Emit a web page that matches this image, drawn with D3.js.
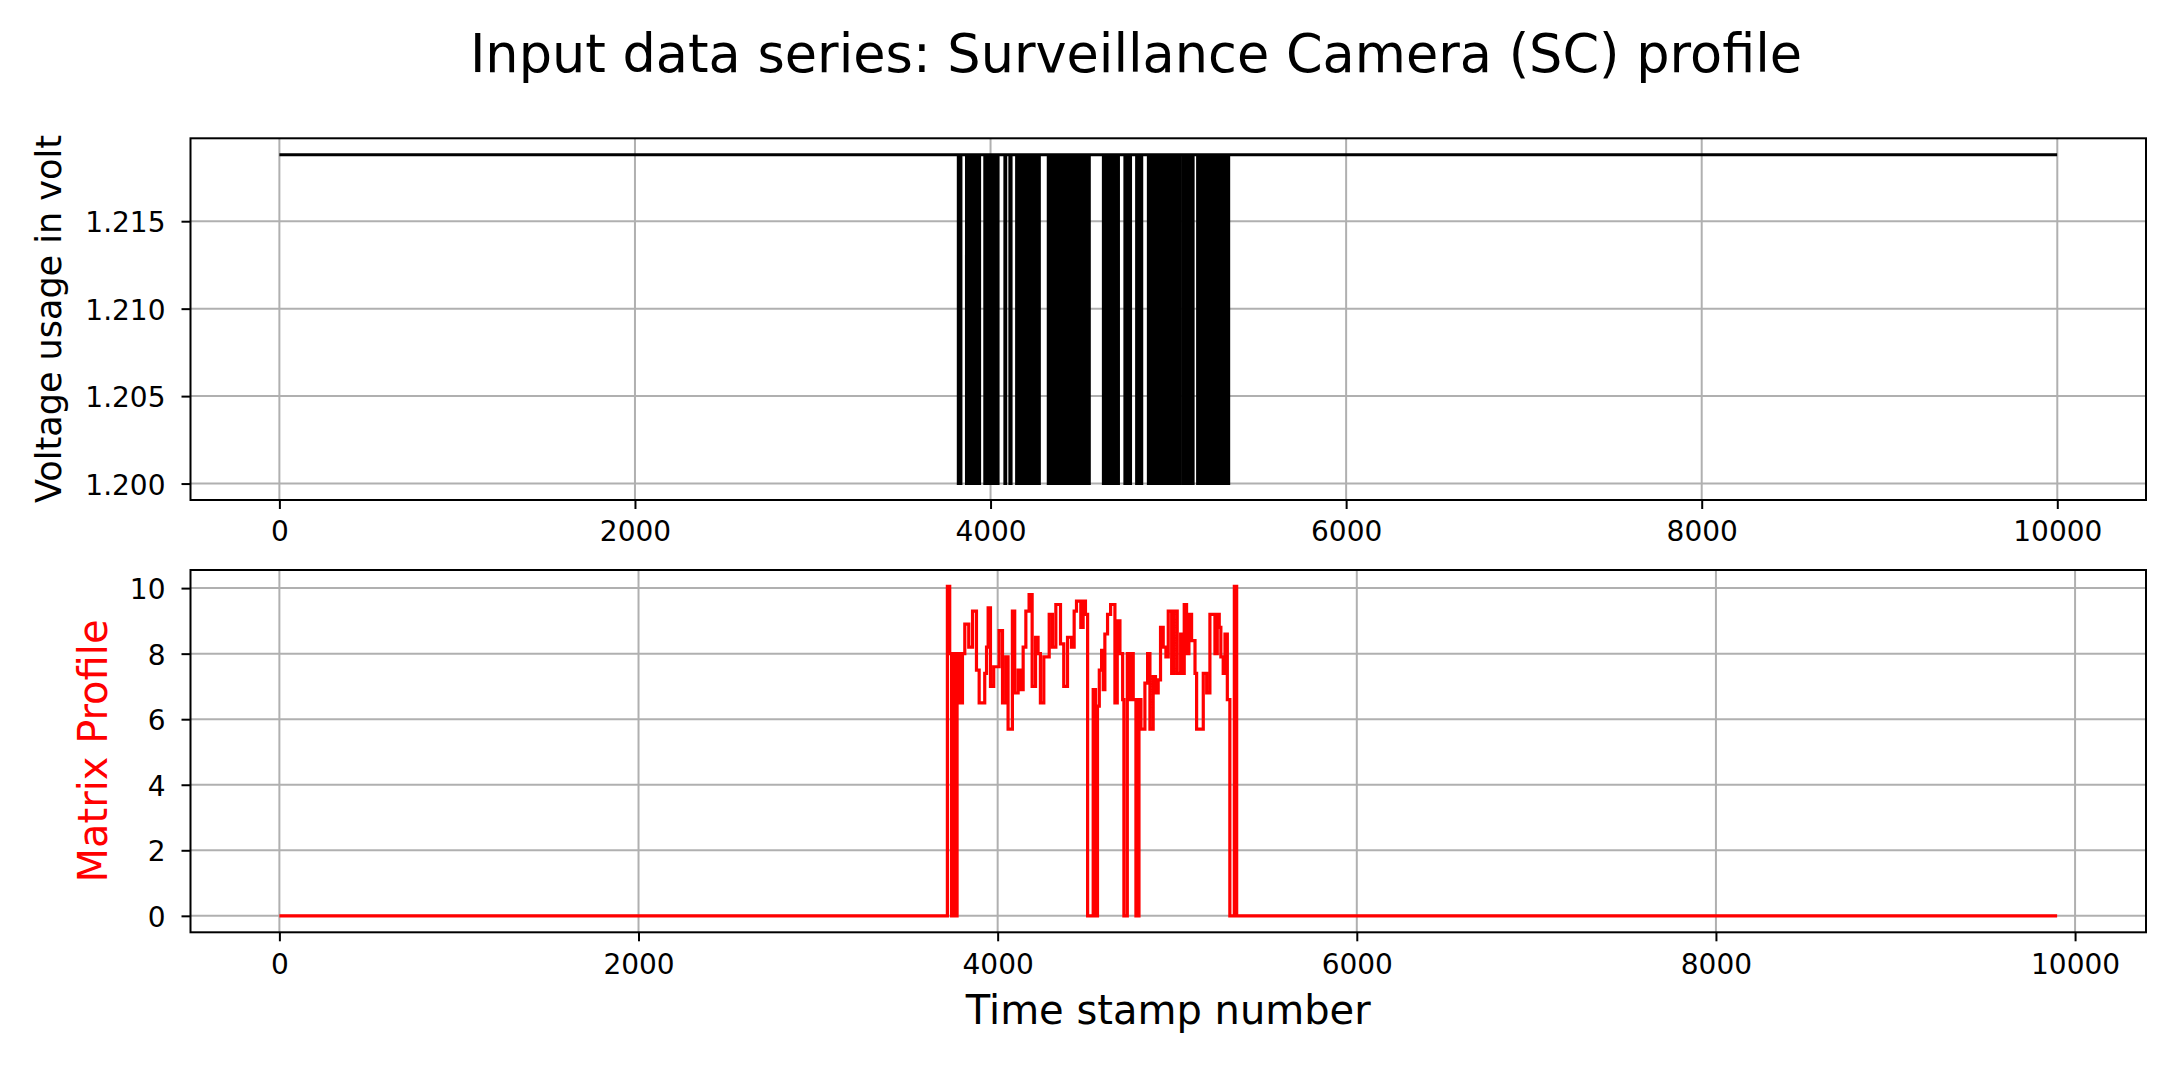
<!DOCTYPE html>
<html>
<head>
<meta charset="utf-8">
<script src="https://cdn.jsdelivr.net/npm/d3@7"></script>
<style>
  body { margin: 0; background: #fff; }
  svg text { font-family: "DejaVu Sans", sans-serif; }
</style>
</head>
<body>
<svg id="chart" width="2182" height="1069"></svg>
<script>
// ---------------- DATA ----------------
const titleText = "Input data series: Surveillance Camera (SC) profile";
const voltLabel = "Voltage usage in volt";
const mpLabel = "Matrix Profile";
const xLabel = "Time stamp number";

const voltLength = 10000;              // indices 0..9999
const voltLevels = [1.2188, 1.2];      // [high, low]; series starts high
// indices where the voltage series switches level
const voltTransitions = [3818, 3823, 3829, 3834,
  3864, 3872, 3880, 3888, 3896, 3904, 3912, 3920, 3930, 3939,
  3967, 3975, 3983, 3991, 3999, 4007, 4015, 4023, 4033, 4043,
  4080, 4086, 4108, 4116,
  4146, 4154, 4162, 4170, 4178, 4186, 4192, 4205, 4219, 4227, 4235, 4243, 4251, 4259, 4267, 4275,
  4324, 4332, 4340, 4348, 4356, 4364, 4371, 4385, 4399, 4407, 4415, 4423, 4431, 4439, 4447, 4455,
  4462, 4470, 4480, 4490, 4500, 4515, 4528, 4540, 4549, 4556,
  4634, 4642, 4650, 4658, 4666, 4674, 4682, 4690, 4698, 4706, 4714, 4720,
  4755, 4763, 4778, 4788,
  4821, 4827, 4833, 4839, 4845, 4851,
  4887, 4895, 4903, 4911, 4919, 4927, 4935, 4943, 4955, 4968,
  4980, 4988, 4996, 5004, 5012, 5018,
  5033, 5040, 5047, 5054, 5061, 5068,
  5084, 5092, 5100, 5108, 5116, 5124, 5132, 5140,
  5164, 5172, 5180, 5188, 5196, 5204, 5212, 5220, 5228, 5236, 5244, 5252, 5260, 5268, 5276, 5284,
  5292, 5300, 5308, 5314, 5322, 5330, 5336, 5340];

const mpLength = 9901;                 // indices 0..9900
// matrix profile: index where value changes, and new value
const mpIdx = [0, 3720, 3733, 3743, 3752, 3761, 3774, 3789, 3804, 3817,
  3839, 3860, 3882, 3897, 3928, 3938, 3947, 3960, 3978, 4008,
  4027, 4045, 4058, 4082, 4095, 4114, 4127, 4142, 4157, 4175,
  4192, 4211, 4225, 4238, 4257, 4287, 4305, 4324, 4350, 4368,
  4389, 4411, 4426, 4439, 4463, 4476, 4489, 4501, 4532, 4545,
  4556, 4566, 4579, 4588, 4597, 4612, 4629, 4653, 4666, 4681,
  4696, 4703, 4722, 4733, 4740, 4755, 4770, 4787, 4798, 4820,
  4835, 4848, 4866, 4879, 4894, 4907, 4922, 4937, 4950, 4969,
  4982, 5000, 5019, 5028, 5039, 5052, 5065, 5080, 5099, 5108,
  5145, 5164, 5182, 5210, 5223, 5234, 5243, 5256, 5266, 5279,
  5293, 5318, 5331, 9900];
const mpVal = [0, 10.05, 8.0, 0, 8.0, 0, 8.0, 6.5, 8.0, 8.9,
  8.2, 9.3, 7.5, 6.5, 7.4, 8.2, 9.4, 7.0, 7.6, 8.7,
  6.5, 7.9, 5.7, 9.3, 6.8, 7.5, 6.9, 8.2, 9.3, 9.8,
  7.0, 8.5, 8.0, 6.5, 7.9, 9.2, 8.2, 9.5, 8.3, 7.0,
  8.5, 8.2, 9.3, 9.6, 8.8, 9.6, 9.2, 0, 6.9, 0,
  6.4, 7.5, 8.1, 6.9, 8.6, 9.2, 9.5, 6.5, 9.0, 8.0,
  6.6, 0, 8.0, 6.6, 8.0, 6.6, 0, 6.6, 5.7, 7.1,
  8.0, 5.7, 7.3, 6.8, 7.2, 8.8, 8.2, 7.9, 9.3, 7.4,
  9.3, 7.4, 8.6, 7.4, 9.5, 8.0, 9.2, 8.4, 7.4, 5.7,
  7.4, 6.8, 9.2, 8.0, 9.2, 8.8, 7.9, 7.4, 8.6, 6.6,
  0, 10.05, 0, 0];

const xTickValues = [0, 2000, 4000, 6000, 8000, 10000];
const voltTickValues = [1.200, 1.205, 1.210, 1.215];
const mpTickValues = [0, 2, 4, 6, 8, 10];

// ---------------- BUILD SERIES ----------------
const voltPoints = [[0, voltLevels[0]]];
let state = 0;
voltTransitions.forEach(t => { state = 1 - state; voltPoints.push([t, voltLevels[state]]); });
voltPoints.push([voltLength - 1, voltLevels[state]]);

const mpPoints = mpIdx.map((d, i) => [d, mpVal[i]]);

// margins like matplotlib (5%)
function padDomain(lo, hi) { const m = (hi - lo) * 0.05; return [lo - m, hi + m]; }

// ---------------- LAYOUT ----------------
const svg = d3.select("#chart");
const L = 190.5, R = 2146;
const tickFont = 28;

function panel(opts) {
  const { y0, y1, xDom, yDom, yTicks, yFmt, points, color, width, id } = opts;
  const x = d3.scaleLinear().domain(xDom).range([L, R]);
  const y = d3.scaleLinear().domain(yDom).range([y1, y0]);
  const g = svg.append("g");

  svg.append("clipPath").attr("id", id).append("rect")
    .attr("x", L).attr("y", y0).attr("width", R - L).attr("height", y1 - y0);

  // grid
  g.append("g").selectAll("line").data(xTickValues).join("line")
    .attr("x1", d => x(d)).attr("x2", d => x(d)).attr("y1", y0).attr("y2", y1)
    .attr("stroke", "#b0b0b0").attr("stroke-width", 2);
  g.append("g").selectAll("line").data(yTicks).join("line")
    .attr("x1", L).attr("x2", R).attr("y1", d => y(d)).attr("y2", d => y(d))
    .attr("stroke", "#b0b0b0").attr("stroke-width", 2);

  // series
  g.append("path").datum(points)
    .attr("clip-path", `url(#${id})`)
    .attr("d", d3.line().x(d => x(d[0])).y(d => y(d[1])).curve(d3.curveStepAfter))
    .attr("fill", "none").attr("stroke", color).attr("stroke-width", width)
    .attr("stroke-linejoin", "miter");

  // spines
  g.append("rect").attr("x", L).attr("y", y0).attr("width", R - L).attr("height", y1 - y0)
    .attr("fill", "none").attr("stroke", "#000").attr("stroke-width", 2);

  // x axis
  g.append("g").attr("transform", `translate(0,${y1})`)
    .call(d3.axisBottom(x).tickValues(xTickValues).tickSize(9).tickSizeOuter(0)
      .tickPadding(12.5).tickFormat(d3.format("d")))
    .call(a => a.select(".domain").remove())
    .call(a => a.selectAll("line").attr("stroke", "#000").attr("stroke-width", 2))
    .call(a => a.selectAll("text").attr("fill", "#000"))
    .attr("font-size", tickFont).attr("font-family", "DejaVu Sans");

  // y axis
  g.append("g").attr("transform", `translate(${L},0)`)
    .call(d3.axisLeft(y).tickValues(yTicks).tickSize(9).tickSizeOuter(0)
      .tickPadding(16).tickFormat(yFmt))
    .call(a => a.select(".domain").remove())
    .call(a => a.selectAll("line").attr("stroke", "#000").attr("stroke-width", 2))
    .call(a => a.selectAll("text").attr("fill", "#000").attr("dy", "0.38em"))
    .attr("font-size", tickFont).attr("font-family", "DejaVu Sans");
}

panel({
  y0: 138.3, y1: 500,
  xDom: padDomain(0, voltLength - 1),
  yDom: padDomain(d3.min(voltLevels), d3.max(voltLevels)),
  yTicks: voltTickValues, yFmt: d3.format(".3f"),
  points: voltPoints, color: "#000", width: 2.8, id: "clipTop"
});

panel({
  y0: 570, y1: 932.3,
  xDom: padDomain(0, mpLength - 1),
  yDom: padDomain(d3.min(mpVal), d3.max(mpVal)),
  yTicks: mpTickValues, yFmt: d3.format("d"),
  points: mpPoints, color: "#ff0000", width: 3.2, id: "clipBot"
});

// labels
svg.append("text").attr("x", 1136).attr("y", 72).attr("text-anchor", "middle")
  .attr("font-size", 52.5).attr("fill", "#000").text(titleText);

svg.append("text").attr("transform", "translate(61,319) rotate(-90)")
  .attr("text-anchor", "middle").attr("font-size", 35).attr("fill", "#000").text(voltLabel);

svg.append("text").attr("transform", "translate(107,751) rotate(-90)")
  .attr("text-anchor", "middle").attr("font-size", 40).attr("fill", "#ff0000").text(mpLabel);

svg.append("text").attr("x", (L + R) / 2).attr("y", 1024).attr("text-anchor", "middle")
  .attr("font-size", 40).attr("fill", "#000").text(xLabel);
</script>
</body>
</html>
